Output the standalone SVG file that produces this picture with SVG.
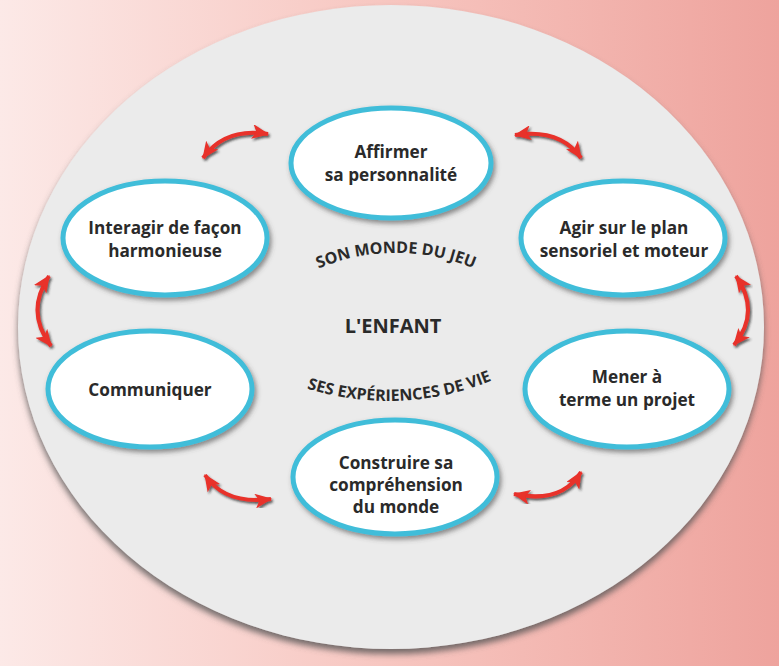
<svg xmlns="http://www.w3.org/2000/svg" width="779" height="666" viewBox="0 0 779 666">
<defs>
<linearGradient id="bg" x1="0" y1="0" x2="1" y2="0">
<stop offset="0" stop-color="#fce9e7"/>
<stop offset="0.5" stop-color="#f7c6c0"/>
<stop offset="1" stop-color="#eea39d"/>
</linearGradient>
<filter id="bigShadow" x="-10%" y="-10%" width="120%" height="120%">
<feDropShadow dx="0" dy="5" stdDeviation="3" flood-color="#555" flood-opacity="0.8"/>
</filter>
<filter id="nodeShadow" x="-15%" y="-15%" width="130%" height="135%">
<feDropShadow dx="2" dy="3" stdDeviation="2.5" flood-color="#444" flood-opacity="0.6"/>
</filter>
<filter id="arrowShadow" x="-30%" y="-30%" width="160%" height="160%">
<feDropShadow dx="1.5" dy="2" stdDeviation="1" flood-color="#222" flood-opacity="0.7"/>
</filter>
<marker id="head" viewBox="0 0 16 14" refX="15" refY="7" markerWidth="17" markerHeight="15" markerUnits="userSpaceOnUse" orient="auto-start-reverse">
<path d="M0,0 L16,7 L0,14 L4,7 z" fill="#e8302a"/>
</marker>
<path id="arcTop" d="M 292 282 A 200 200 0 0 1 500 282"/>
<path id="arcBot" d="M 284 380 A 270 270 0 0 0 514 370"/>
</defs>
<style>
.node ellipse { fill: #ffffff; stroke: #40bdd9; stroke-width: 5; filter: url(#nodeShadow); }
.lbl { font-family: "Open Sans", "Liberation Sans", sans-serif; font-weight: bold; font-size: 17.2px; fill: #2a2a2a; text-anchor: middle; }
.arc { font-family: "Open Sans", "Liberation Sans", sans-serif; font-weight: bold; font-size: 16px; fill: #2a2a2a; }
.arrow { fill: none; stroke: #e8302a; stroke-width: 4; marker-start: url(#head); marker-end: url(#head); filter: url(#arrowShadow); }
</style>
<rect x="0" y="0" width="779" height="666" fill="url(#bg)"/>
<ellipse id="circle" cx="391" cy="327" rx="373" ry="322" fill="#ebebeb" filter="url(#bigShadow)"/>

<g id="connectors">
<path class="arrow" d="M 203 158 Q 225 127 268 134"/>
<path class="arrow" d="M 515 135 Q 560 128 581 158"/>
<path class="arrow" d="M 49 276 Q 25 312 51 346"/>
<path class="arrow" d="M 736 276 Q 761 312 734 345"/>
<path class="arrow" d="M 205 475 Q 225 505 271 499"/>
<path class="arrow" d="M 514 494 Q 562 504 581 472"/>
</g>

<g id="center">
<text class="lbl" x="393" y="333" style="font-size:20px">L'ENFANT</text>
<text class="arc"><textPath href="#arcTop" startOffset="50%" text-anchor="middle">SON MONDE DU JEU</textPath></text>
<text class="arc"><textPath href="#arcBot" startOffset="50%" text-anchor="middle">SES EXPÉRIENCES DE VIE</textPath></text>
</g>

<g id="n-affirmer" class="node">
<ellipse cx="391" cy="163" rx="100" ry="55"/>
<text class="lbl" x="391" y="158">Affirmer</text>
<text class="lbl" x="391" y="181">sa personnalité</text>
</g>
<g id="n-interagir" class="node">
<ellipse cx="165" cy="238" rx="102" ry="57"/>
<text class="lbl" x="165" y="234">Interagir de façon</text>
<text class="lbl" x="165" y="257">harmonieuse</text>
</g>
<g id="n-agir" class="node">
<ellipse cx="623" cy="238" rx="102" ry="57"/>
<text class="lbl" x="624" y="234">Agir sur le plan</text>
<text class="lbl" x="624" y="257">sensoriel et moteur</text>
</g>
<g id="n-communiquer" class="node">
<ellipse cx="150" cy="389" rx="102" ry="58"/>
<text class="lbl" x="150" y="396">Communiquer</text>
</g>
<g id="n-mener" class="node">
<ellipse cx="627" cy="389" rx="102" ry="58"/>
<text class="lbl" x="627" y="383">Mener à</text>
<text class="lbl" x="627" y="406">terme un projet</text>
</g>
<g id="n-construire" class="node">
<ellipse cx="395" cy="477" rx="102" ry="57"/>
<text class="lbl" x="396" y="469">Construire sa</text>
<text class="lbl" x="396" y="491">compréhension</text>
<text class="lbl" x="396" y="513">du monde</text>
</g>
</svg>
